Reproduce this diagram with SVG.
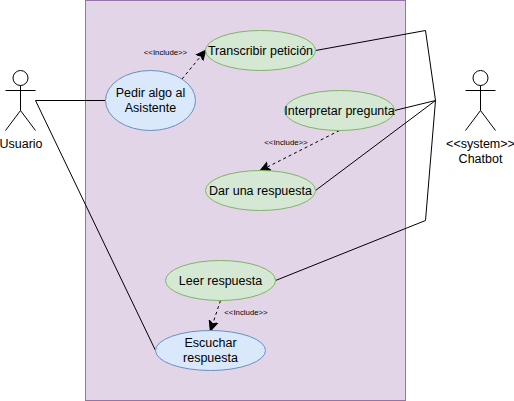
<svg xmlns="http://www.w3.org/2000/svg" width="514" height="401" viewBox="0 0 514 401">
<style>
text{font-family:"Liberation Sans",Arial,sans-serif;font-size:12.5px;text-anchor:middle;fill:#000}
.small{font-size:7.8px}
.g{fill:#d5e8d4;stroke:#82b366}
.b{fill:#dae8fc;stroke:#6c8ebf}
.line{fill:none;stroke:#000}
.dash{fill:none;stroke:#000;stroke-dasharray:3 3}
</style>
<defs><marker id="arrow" markerUnits="userSpaceOnUse" markerWidth="13" markerHeight="11" refX="9.5" refY="5" orient="auto" viewBox="0 0 13 10"><path d="M0 0.5L10 5L0 9.5L2.5 5Z" fill="#000" stroke="#000"/></marker></defs>
<rect id="system" x="85.5" y="0.5" width="320" height="400" fill="#e1d5e7" stroke="#9673a6"/>
<g id="connectors">
<path class="line" d="M35.5 100.5H105.5"/>
<path class="line" d="M35.5 100.5L155.5 350.5"/>
<path class="line" d="M315.5 50.5L425.5 30.5L435.5 100.5"/>
<path class="line" d="M394.5 110.5L435.5 100.5"/>
<path class="line" d="M315.5 190.5L435.5 100.5"/>
<path class="line" d="M275.5 280.5L425.5 220.5L435.5 100.5"/>
<path class="dash" d="M182 79L205.5 50.5" marker-end="url(#arrow)"/>
<path class="dash" d="M339.5 130.5L260.5 170.5" marker-end="url(#arrow)"/>
<path class="dash" d="M220.5 300.5L210.5 330.5" marker-end="url(#arrow)"/>
<text class="small" x="165.5" y="54.5">&lt;&lt;Include&gt;&gt;</text>
<text class="small" x="286" y="144.5">&lt;&lt;Include&gt;&gt;</text>
<text class="small" x="246" y="314.5">&lt;&lt;Include&gt;&gt;</text>
</g>
<g id="usuario">
<circle class="line" cx="20.5" cy="78" r="7.5"/>
<path class="line" d="M20.5 85.5V110.5M5.5 90.5H35.5M20.5 110.5L5.5 130.5M20.5 110.5L35.5 130.5"/>
<text x="21" y="148">Usuario</text>
</g>
<g id="chatbot">
<circle class="line" cx="480.5" cy="78" r="7.5"/>
<path class="line" d="M480.5 85.5V110.5M465.5 90.5H495.5M480.5 110.5L465.5 130.5M480.5 110.5L495.5 130.5"/>
<text x="480.5" y="148">&lt;&lt;system&gt;&gt;</text>
<text x="480.5" y="163">Chatbot</text>
</g>
<g id="pedir"><ellipse class="b" cx="150.5" cy="100.5" rx="45" ry="30"/><text x="150.5" y="97">Pedir algo al</text><text x="150.5" y="112">Asistente</text></g>
<g id="transcribir"><ellipse class="g" cx="260.5" cy="50.5" rx="55" ry="20"/><text x="260.5" y="55">Transcribir petición</text></g>
<g id="interpretar"><ellipse class="g" cx="339.5" cy="110.5" rx="55" ry="20"/><text x="339.5" y="115">Interpretar pregunta</text></g>
<g id="dar"><ellipse class="g" cx="260.5" cy="190.5" rx="55" ry="20"/><text x="260.5" y="195">Dar una respuesta</text></g>
<g id="leer"><ellipse class="g" cx="220.5" cy="280.5" rx="55" ry="20"/><text x="220.5" y="285">Leer respuesta</text></g>
<g id="escuchar"><ellipse class="b" cx="210.5" cy="350.5" rx="55" ry="20"/><text x="210.5" y="347">Escuchar</text><text x="210.5" y="362">respuesta</text></g>
</svg>
